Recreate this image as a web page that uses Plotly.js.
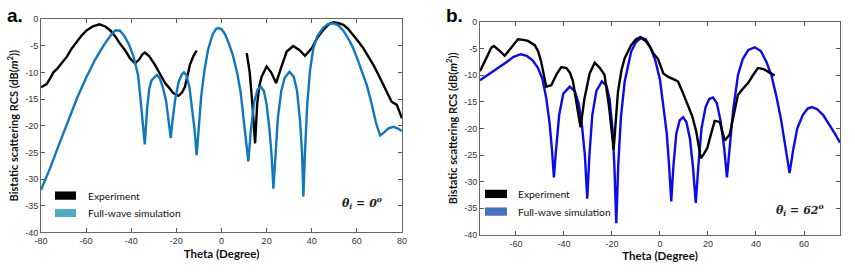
<!DOCTYPE html>
<html>
<head>
<meta charset="utf-8">
<script src="https://cdn.plot.ly/plotly-3.0.1.min.js"></script>
<style>html,body{margin:0;padding:0;background:#fff;}#chart{width:855px;height:272px;}</style>
</head>
<body>
<div id="chart"></div>
<script>
// ---- Panel a (theta_i = 0°) ----
const aSimTheta = [-80,-76,-72,-68,-64,-60,-56,-52,-49,-47,-45,-43,-41,-39,-37,-36,-35,-34,-33,-32,-31,-29.5,-28.7,-27.5,-26,-24.5,-23.3,-22.5,-21.7,-20.5,-19,-17.5,-16.6,-15.5,-14.2,-13,-12,-11,-10,-9,-7.5,-6,-4,-2.5,-1.5,0,1.5,3,5,7,8.5,9.7,10.8,11.9,13,14.5,16,17.4,18.8,20,21.2,22.2,23,23.8,25,26.5,28,30.1,32,33.5,34.8,35.7,36.3,37,38,39.3,40.7,42.5,45,47,49.3,51.5,54,56.5,58.4,60.5,62.5,64.4,66.5,68.5,70.3,72,74,76.2,78.5,80];
const aSimRCS = [-32,-28,-23.5,-19,-14.8,-11,-7.6,-4.8,-3,-2.1,-2.2,-3.2,-4.8,-7,-10.5,-14.5,-18.5,-23.5,-17,-13,-11.5,-10.7,-10.5,-11,-12.8,-15.5,-19,-22.3,-19,-15,-11.8,-10.3,-10,-10.6,-12.8,-16.5,-20.5,-25.5,-20,-14.5,-9.5,-5.8,-3,-1.9,-1.7,-1.9,-2.8,-4.3,-6.7,-10.2,-13.8,-18,-22.5,-26.7,-21,-15.5,-13.2,-12.7,-13.5,-16,-20.5,-25.5,-31.8,-25.5,-18.5,-13.5,-11,-9.9,-10.8,-13.5,-19,-25,-33.3,-25,-16,-9.5,-5.5,-3.2,-1.7,-1,-0.8,-1.1,-2.2,-3.9,-5.5,-7.8,-10.2,-12.4,-15.8,-19.5,-21.8,-21.3,-20.5,-20.2,-20.6,-21];
const aExpTheta = [-80,-78.5,-77.5,-76,-74.5,-73,-71.6,-70,-68.6,-66.5,-64.2,-62,-59.7,-57,-54.1,-51.5,-49.4,-47,-45,-42.5,-40.5,-38.3,-36.5,-35,-33.9,-32,-29.5,-27,-25,-23,-21.4,-19.1,-17.5,-16.2,-15,-14,-12.5,-11,0,11.2,12.5,13.6,14.9,15.8,16.8,17.8,20,22,24.2,26.5,28.9,31.8,34.5,37,40,42.5,45.1,47.5,49.6,52,54,56,58.4,61,62.9,65,67.3,69.5,71.7,73.5,75.4,77.7,79,80];
const aExpRCS = [-12.8,-12.5,-12.2,-11.2,-10,-9.4,-8.6,-7.8,-7.1,-5.6,-4.2,-3.1,-2.1,-1.4,-1.0,-1.4,-2.1,-3.3,-4.6,-6,-7.4,-8.3,-7.6,-6.6,-6.3,-7,-8.6,-10.4,-12,-13,-13.9,-14.4,-13.8,-12.7,-10.5,-8.6,-7,-5.9,null,-6.4,-10,-15.5,-23.3,-16,-12.5,-10.8,-8.9,-10,-12,-9,-6.1,-5.06,-5.8,-6.9,-5.5,-3.5,-2.06,-1,-0.6,-0.8,-1.1,-1.8,-3,-4.4,-5.5,-6.9,-8.6,-10.4,-12.4,-14,-15.5,-16.1,-17.5,-18.6];

// ---- Panel b (theta_i = 62°) ----
const bSimTheta = [-75,-71,-67.5,-64,-61,-58,-55.5,-53,-50.8,-49,-47.4,-46,-45,-44.2,-43.3,-42,-40.3,-37.6,-35.5,-33.8,-32.5,-31.3,-30.3,-29.4,-28.2,-26.5,-24.2,-22.3,-21,-19.8,-19,-18.2,-17.4,-16.3,-14.7,-13.3,-12,-10,-7.8,-6,-4,-2,0,1.3,2.8,3.8,4.7,5.6,6.8,8.2,9.6,11,12.5,13.8,14.9,16,17.3,19,20.5,22.1,23.7,25.2,26.7,27.9,29.2,30.5,32.5,34.5,36.8,39.5,42,44.3,46.4,48.5,50.5,52.3,54,55.5,57.2,59.5,61.5,63.3,65.5,68,70.5,73,75];
const bSimRCS = [-11,-9.8,-8.7,-7.6,-6.6,-6.1,-6.4,-7.3,-8.7,-10.7,-14.3,-19,-24,-29.2,-24,-17.5,-13.5,-12.2,-13,-15.5,-19.5,-25,-33.2,-25,-17.5,-13,-11.2,-12,-14.5,-20,-27,-37.8,-27,-18,-11.2,-8,-5.6,-3.8,-3.0,-3.3,-4.8,-7.2,-10.9,-15.5,-20.9,-27,-33.7,-27,-21,-18.5,-17.9,-18.8,-22,-27.5,-34,-27,-20,-16,-14.5,-14.2,-15.3,-18.5,-23.5,-29.2,-22,-16.5,-10,-7,-5.3,-4.8,-5.5,-7.5,-10,-14,-18.5,-23.5,-28.4,-24,-20,-17.5,-16.3,-16,-16.4,-17.5,-19.2,-21.1,-22.7];
const bExpTheta = [-75,-73.5,-72,-70.3,-69.2,-67,-64.7,-62,-59.2,-57,-55,-52.2,-50.8,-49.5,-47.4,-45.3,-43,-41.1,-39,-37.5,-36.25,-34.7,-33.1,-31.5,-29.3,-27.2,-25,-23.1,-21.2,-19.3,-17.5,-16,-14.7,-12,-10,-8.2,-6,-4.5,-2.8,-0.8,1.4,3.3,5.5,7.5,9.5,11.7,13.5,15.1,17,18.3,19.7,21.3,22.8,24.9,27,29,30.8,32.5,34.5,36.7,38.8,40.8,42.2,43.6,45.5,47.8];
const bExpRCS = [-9.3,-8,-6.5,-4.9,-4.55,-5.4,-6.4,-4.9,-3.3,-3.4,-3.6,-4.4,-5.5,-7.5,-12.2,-11.9,-9.8,-8.5,-8.7,-9.6,-11.2,-15.5,-19.8,-14.5,-9.7,-7.7,-8.7,-10,-16,-24,-13.1,-9,-6.85,-4.4,-3.3,-2.9,-3.6,-4.5,-5.9,-7,-9.7,-10.3,-10.8,-11.2,-13.3,-15.6,-17.8,-20.6,-25.6,-24.8,-23.7,-21,-18.6,-18.8,-22.3,-21.2,-17,-13.7,-12.6,-11.5,-10,-8.7,-8.8,-9,-9.5,-10.1];

const yTicks = [-40,-35,-30,-25,-20,-15,-10,-5,0];
const aXTicks = [-80,-60,-40,-20,0,20,40,60,80];
const bXTicks = [-60,-40,-20,0,20,40,60];
const legendNames = ['Experiment','Full-wave simulation'];

const traces = [
  {x:aExpTheta, y:aExpRCS, xaxis:'x', yaxis:'y', mode:'lines', name:legendNames[0], line:{color:'#000000', width:2.4}, connectgaps:false},
  {x:aSimTheta, y:aSimRCS, xaxis:'x', yaxis:'y', mode:'lines', name:legendNames[1], line:{color:'#0f78bd', width:2.4}},
  {x:bSimTheta, y:bSimRCS, xaxis:'x2', yaxis:'y2', mode:'lines', name:legendNames[1], line:{color:'#0a0af0', width:2.4}},
  {x:bExpTheta, y:bExpRCS, xaxis:'x2', yaxis:'y2', mode:'lines', name:legendNames[0], line:{color:'#000000', width:2.4}}
];

const tickFont = {family:'Liberation Sans, Arial', size:9, color:'#333'};
const titleFont = {family:'Lato, Open Sans', size:11.5, color:'#111', weight:'bold'};
const ytitleFont = {family:'Lato, Open Sans', size:11, color:'#111', weight:'bold'};
const legFont = {family:'Lato, Open Sans', size:10.3, color:'#111'};

function xax(domain, range, ticks){
  return {domain:domain, range:range, tickvals:ticks, ticktext:ticks.map(String), ticks:'inside', ticklen:4, tickcolor:'#555',
    showline:true, linecolor:'#666', linewidth:1, mirror:'ticks', showgrid:false, zeroline:false, tickfont:tickFont,
    title:{text:'Theta (Degree)', font:titleFont, standoff:4}, automargin:false};
}
function yax(domain, anchor){
  return {domain:domain, anchor:anchor, range:[-40,0], tickvals:yTicks, ticktext:yTicks.map(String), ticks:'inside', ticklen:4, tickcolor:'#555',
    showline:true, linecolor:'#666', linewidth:1, mirror:'ticks', showgrid:false, zeroline:false, tickfont:tickFont,
    title:{text:'Bistatic scattering RCS (dB(<i>m</i><sup>2</sup>))', font:ytitleFont, standoff:4}, automargin:false};
}

const layout = {
  width:855, height:272,
  margin:{l:41, r:15, t:19, b:36.7},
  paper_bgcolor:'#fff', plot_bgcolor:'#fff',
  showlegend:false,
  xaxis: Object.assign(xax([0,0.4518],[-80,80],aXTicks), {anchor:'y'}),
  yaxis: yax([0.012,1],'x'),
  xaxis2: Object.assign(xax([0.5494,1],[-75,75],bXTicks), {anchor:'y2'}),
  yaxis2: yax([0,0.9875],'x2'),
  shapes:[
    {type:'rect', xref:'paper', yref:'paper', x0:(55-41)/799, x1:(76-41)/799, y0:(235.3-200)/216.3, y1:(235.3-191.7)/216.3, fillcolor:'#000', line:{width:0}},
    {type:'rect', xref:'paper', yref:'paper', x0:(55-41)/799, x1:(76-41)/799, y0:(235.3-217.3)/216.3, y1:(235.3-209.3)/216.3, fillcolor:'#4bacc6', line:{width:0}},
    {type:'rect', xref:'paper', yref:'paper', x0:(485-41)/799, x1:(507-41)/799, y0:(235.3-198.3)/216.3, y1:(235.3-190)/216.3, fillcolor:'#000', line:{width:0}},
    {type:'rect', xref:'paper', yref:'paper', x0:(485-41)/799, x1:(507-41)/799, y0:(235.3-216)/216.3, y1:(235.3-207.7)/216.3, fillcolor:'#4472c4', line:{width:0}}
  ],
  annotations:[
    {text:'<b>a.</b>', xref:'paper', yref:'paper', x:(5-41)/799, y:(235.3-15)/216.3, xanchor:'left', yanchor:'middle', showarrow:false, font:{family:'Liberation Sans, Arial', size:19, color:'#000'}},
    {text:'<b>b.</b>', xref:'paper', yref:'paper', x:(444-41)/799, y:(235.3-15)/216.3, xanchor:'left', yanchor:'middle', showarrow:false, font:{family:'Liberation Sans, Arial', size:19, color:'#000'}},
    {text:legendNames[0], xref:'paper', yref:'paper', x:(86-41)/799, y:(235.3-196)/216.3, xanchor:'left', yanchor:'middle', showarrow:false, font:legFont},
    {text:legendNames[1], xref:'paper', yref:'paper', x:(86-41)/799, y:(235.3-213.3)/216.3, xanchor:'left', yanchor:'middle', showarrow:false, font:legFont},
    {text:legendNames[0], xref:'paper', yref:'paper', x:(516-41)/799, y:(235.3-194)/216.3, xanchor:'left', yanchor:'middle', showarrow:false, font:legFont},
    {text:legendNames[1], xref:'paper', yref:'paper', x:(516-41)/799, y:(235.3-212)/216.3, xanchor:'left', yanchor:'middle', showarrow:false, font:legFont},
    {text:'<i>θ<sub>i</sub></i> = <i>0<sup>o</sup></i>', xref:'paper', yref:'paper', x:(362-41)/799, y:(235.3-203)/216.3, xanchor:'center', yanchor:'middle', showarrow:false, font:{family:'DejaVu Serif', size:11, color:'#222', weight:'bold'}},
    {text:'<i>θ<sub>i</sub></i> = <i>62<sup>o</sup></i>', xref:'paper', yref:'paper', x:(800-41)/799, y:(235.3-210)/216.3, xanchor:'center', yanchor:'middle', showarrow:false, font:{family:'DejaVu Serif', size:11, color:'#222', weight:'bold'}}
  ]
};

Plotly.newPlot('chart', traces, layout, {displayModeBar:false, staticPlot:true});
</script>
</body>
</html>
